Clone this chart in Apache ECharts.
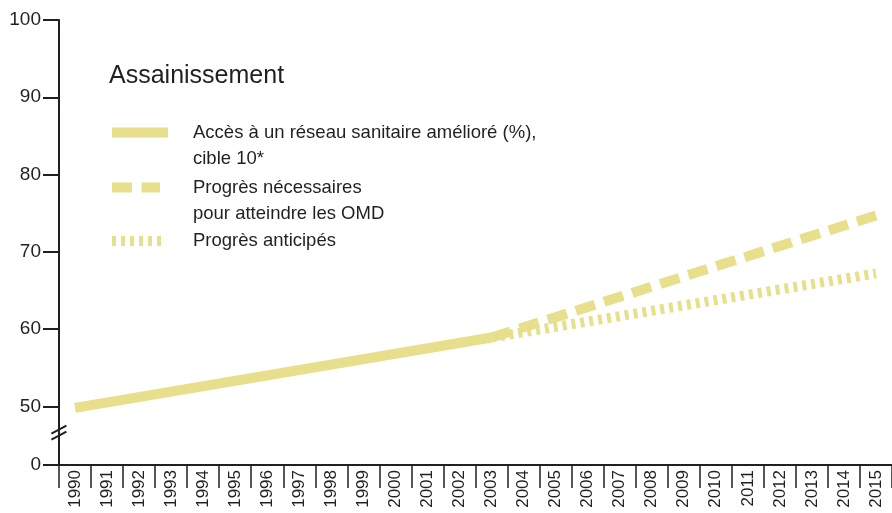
<!DOCTYPE html>
<html>
<head>
<meta charset="utf-8">
<script src="https://cdn.jsdelivr.net/npm/echarts@6/dist/echarts.min.js"></script>
<style>
  html, body { margin: 0; padding: 0; background: #fff; }
  #chart { width: 892px; height: 513px; }
</style>
</head>
<body>
<div id="chart"></div>
<script>
// years on the x axis
const years = [];
for (let y = 1990; y <= 2015; y++) years.push(String(y));

// values (only the known points, the rest stay empty)
const acces = [49.8, null, null, null, null, null, null, null, null, null, null, null, null, 58.9,
  null, null, null, null, null, null, null, null, null, null, null, null];
const necessaires = [null, null, null, null, null, null, null, null, null, null, null, null, null, 58.9,
  null, null, null, null, null, null, null, null, null, null, null, 74.7];
const anticipes = [null, null, null, null, null, null, null, null, null, null, null, null, null, 58.9,
  null, null, null, null, null, null, null, null, null, null, null, 67.2];

// y tick labels; the axis is broken between 0 and 50
const yTicks = [50, 60, 70, 80, 90, 100];
const BREAK_MIN = 42.4; // where the "0" sits on the broken scale

const FONT = '"Liberation Sans", Arial, sans-serif';
const INK = '#231f20';
const YELLOW = '#e8df8c';

const chart = echarts.init(document.getElementById('chart'));

function legendBox(name, top, width, label) {
  return {
    data: [name],
    left: 107,
    top: top,
    padding: 0,
    itemWidth: width,
    itemHeight: 10,
    itemGap: 0,
    itemStyle: { opacity: 0 },
    lineStyle: { width: 10, cap: 'butt' },
    formatter: () => label,
    textStyle: {
      fontFamily: FONT,
      fontSize: 18.5,
      lineHeight: 26,
      color: INK,
      padding: [0, 0, 0, 76 - width]
    }
  };
}

chart.setOption({
  animation: false,
  title: {
    text: 'Assainissement',
    left: 109,
    top: 63.5,
    padding: 0,
    textStyle: { fontFamily: FONT, fontSize: 25, fontWeight: 'normal', color: INK }
  },
  legend: [
    legendBox('acces', 93.5, 56, '\nAccès à un réseau sanitaire amélioré (%),\ncible 10*'),
    legendBox('necessaires', 148.5, 48, '\nProgrès nécessaires\npour atteindre les OMD'),
    legendBox('anticipes', 228, 52, 'Progrès anticipés')
  ],
  grid: { left: 59, right: -6, top: 20, bottom: 48, containLabel: false },
  xAxis: {
    type: 'category',
    data: years,
    boundaryGap: true,
    axisLine: { lineStyle: { color: INK, width: 2 } },
    axisTick: { show: true, length: 23, lineStyle: { color: INK, width: 1.5 } },
    axisLabel: {
      rotate: 90,
      margin: 5,
      interval: 0,
      fontFamily: FONT,
      fontSize: 17,
      color: INK
    },
    splitLine: { show: false }
  },
  yAxis: {
    type: 'value',
    min: BREAK_MIN,
    max: 100,
    axisLine: { show: true, lineStyle: { color: INK, width: 2 } },
    axisTick: {
      show: true,
      length: 16,
      customValues: [BREAK_MIN].concat(yTicks),
      lineStyle: { color: INK, width: 2 }
    },
    axisLabel: {
      customValues: [BREAK_MIN].concat(yTicks),
      formatter: (v) => (v === BREAK_MIN ? '0' : String(v)),
      margin: 18,
      fontFamily: FONT,
      fontSize: 19,
      color: INK
    },
    splitLine: { show: false }
  },
  series: [
    {
      name: 'acces',
      type: 'line',
      data: acces,
      connectNulls: true,
      symbol: 'none',
      lineStyle: { color: YELLOW, width: 10, cap: 'butt' },
      itemStyle: { color: YELLOW }
    },
    {
      name: 'necessaires',
      type: 'line',
      data: necessaires,
      connectNulls: true,
      symbol: 'none',
      lineStyle: { color: YELLOW, width: 10, type: [20, 9.5], cap: 'butt' },
      itemStyle: { color: YELLOW }
    },
    {
      name: 'anticipes',
      type: 'line',
      data: anticipes,
      connectNulls: true,
      symbol: 'none',
      lineStyle: { color: YELLOW, width: 10, type: [4, 5], cap: 'butt' },
      itemStyle: { color: YELLOW }
    }
  ]
});

// the "//" mark that shows the break on the y axis
const axisX = chart.convertToPixel({ xAxisIndex: 0 }, 0) - 32.27 / 2;
const breakY = chart.convertToPixel({ yAxisIndex: 0 }, 46.6);
chart.setOption({
  graphic: [
    { type: 'line', shape: { x1: axisX - 7.5, y1: breakY + 1, x2: axisX + 7.5, y2: breakY - 7 }, style: { stroke: INK, lineWidth: 2 } },
    { type: 'line', shape: { x1: axisX - 7.5, y1: breakY + 7, x2: axisX + 7.5, y2: breakY - 1 }, style: { stroke: INK, lineWidth: 2 } }
  ]
});
</script>
</body>
</html>
